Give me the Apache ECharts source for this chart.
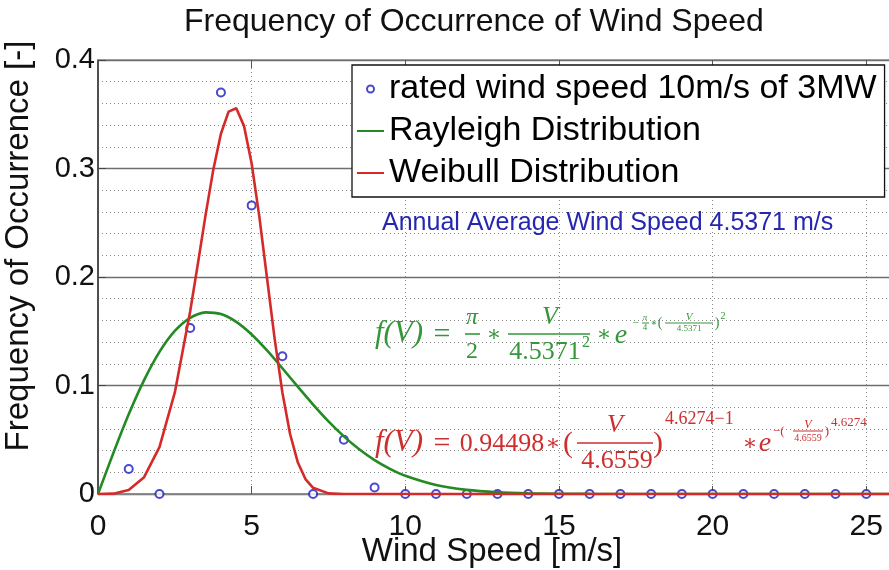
<!DOCTYPE html>
<html>
<head>
<meta charset="utf-8">
<title>Frequency of Occurrence of Wind Speed</title>
<script src="https://cdn.jsdelivr.net/npm/echarts@6/dist/echarts.min.js"></script>
<style>
  html, body { margin: 0; padding: 0; background: #fff; }
  #chart { width: 889px; height: 570px; }
</style>
</head>
<body>
<div id="chart"></div>
<script>
// Measured frequency per 1 m/s wind-speed bin
const windSpeedBins = [1, 2, 3, 4, 5, 6, 7, 8, 9, 10, 11, 12, 13, 14, 15, 16, 17, 18, 19, 20, 21, 22, 23, 24, 25, 26];
const observedFreq  = [0.023, 0, 0.153, 0.370, 0.266, 0.127, 0, 0.050, 0.006, 0, 0, 0, 0, 0, 0, 0, 0, 0, 0, 0, 0, 0, 0, 0, 0, 0];

// Rayleigh fit curve (sampled)
const rayleighSpeed = [0, 0.5, 1, 1.5, 2, 2.5, 3, 3.5, 4, 4.5, 5, 5.5, 6, 6.5, 7, 7.5, 8, 8.5, 9, 9.5, 10, 11, 12, 13, 14, 15, 16, 18, 26];
const rayleighFreq  = [0, 0.0378, 0.0735, 0.1050, 0.1310, 0.1503, 0.1624, 0.1674, 0.1658, 0.1586, 0.1470, 0.1323, 0.1159, 0.0989, 0.0824, 0.0669, 0.0531, 0.0412, 0.0312, 0.0232, 0.0168, 0.0083, 0.0038, 0.0016, 0.0006, 0.0002, 0.0001, 0, 0];

// Weibull fit curve (sampled)
const weibullSpeed = [0, 0.5, 1, 1.5, 2, 2.5, 3, 3.25, 3.5, 3.75, 4, 4.25, 4.5, 4.75, 5, 5.25, 5.5, 5.75, 6, 6.25, 6.5, 6.75, 7, 7.5, 8, 26];
const weibullFreq  = [0, 0.0003, 0.0036, 0.0155, 0.0432, 0.0936, 0.1684, 0.2122, 0.2570, 0.2986, 0.3320, 0.3524, 0.3555, 0.3393, 0.3046, 0.2556, 0.1991, 0.1428, 0.0935, 0.0553, 0.0293, 0.0138, 0.0057, 0.0006, 0, 0];

const xTickValues = [0, 5, 10, 15, 20, 25];
const seriesNames = ['rated wind speed 10m/s of 3MW', 'Rayleigh Distribution', 'Weibull Distribution'];
const averageNote = 'Annual Average Wind Speed 4.5371 m/s';

const GREEN = '#248a24';
const RED = '#d42a2a';
const BLUE = '#1a1ac4';
const F_GREEN = '#35963a';
const F_RED = '#cc2f2f';

const zip = (xs, ys) => xs.map((x, i) => [x, ys[i]]);

// --- formula typesetting helpers ---
const serif = (size, italic) => (italic ? 'italic ' : '') + size + 'px "Liberation Serif", "DejaVu Serif", serif';
function t(text, x, y, size, fill, italic, align) {
  return {
    type: 'text', x: x, y: y, z: 50, silent: true,
    style: { text: text, fill: fill, font: serif(size, italic), align: align || 'center', verticalAlign: 'middle' }
  };
}
function bar(x1, x2, y, stroke, w) {
  return {
    type: 'line', z: 50, silent: true,
    shape: { x1: x1, y1: y, x2: x2, y2: y },
    style: { stroke: stroke, lineWidth: w || 1.6 }
  };
}

const rayleighFormula = [
  t('f(V)', 399, 334, 31, F_GREEN, true),
  t('=', 442, 335, 30, F_GREEN),
  t('π', 472, 318, 24, F_GREEN, true),
  bar(465, 480, 334, F_GREEN),
  t('2', 472, 352, 24, F_GREEN),
  t('∗', 494, 335, 22, F_GREEN),
  t('V', 550, 317, 26, F_GREEN, true),
  bar(508, 590, 334, F_GREEN),
  t('4.5371', 545, 352, 26, F_GREEN),
  t('2', 586, 343, 16, F_GREEN),
  t('∗', 604, 335, 22, F_GREEN),
  t('e', 621, 336, 28, F_GREEN, true),
  t('−', 636, 323, 12, F_GREEN),
  t('π', 645, 318, 9, F_GREEN, true),
  bar(642, 649, 323, F_GREEN, 1),
  t('4', 645, 328, 9, F_GREEN),
  t('∗', 654, 323, 10, F_GREEN),
  t('(', 660, 323, 14, F_GREEN),
  t('V', 689, 317, 11, F_GREEN, true),
  bar(665, 713, 323, F_GREEN, 1),
  t('4.5371', 689, 329, 9, F_GREEN),
  t(')', 717, 323, 14, F_GREEN),
  t('2', 723, 316, 10, F_GREEN)
];

const weibullFormula = [
  t('f(V)', 399, 443, 31, F_RED, true),
  t('=', 442, 444, 30, F_RED),
  t('0.94498', 502, 444, 26, F_RED),
  t('∗', 553, 444, 22, F_RED),
  t('(', 568, 444, 30, F_RED),
  t('V', 615, 425, 26, F_RED, true),
  bar(577, 653, 443, F_RED),
  t('4.6559', 617, 461, 26, F_RED),
  t(')', 658, 444, 30, F_RED),
  t('4.6274−1', 665, 419, 18, F_RED, false, 'left'),
  t('∗', 750, 444, 22, F_RED),
  t('e', 765, 444, 28, F_RED, true),
  t('−(', 773, 432, 13, F_RED, false, 'left'),
  t('V', 808, 425, 12, F_RED, true),
  bar(793, 823, 431, F_RED, 1),
  t('4.6559', 808, 438, 10, F_RED),
  t(')', 827, 432, 13, F_RED),
  t('4.6274', 831, 423, 13, F_RED, false, 'left')
];

const dotted = { color: '#8a8a8a', width: 1, type: [1, 3] };
const sans = '"Liberation Sans", Arial, Helvetica, sans-serif';

const chart = echarts.init(document.getElementById('chart'), null, { renderer: 'canvas' });
chart.setOption({
  animation: false,
  backgroundColor: '#fff',
  textStyle: { fontFamily: sans },
  title: {
    text: 'Frequency of Occurrence of Wind Speed',
    left: 184, top: 6, padding: 0,
    textStyle: { fontSize: 32, fontWeight: 'normal', color: '#111', fontFamily: sans }
  },
  grid: {
    left: 98, top: 60, width: 799, height: 434,
    outerBoundsMode: 'none', containLabel: false,
    show: true, backgroundColor: '#fff', borderColor: '#555', borderWidth: 1
  },
  legend: {
    data: [
      { name: seriesNames[0] },
      { name: seriesNames[1], itemStyle: { opacity: 0 } },
      { name: seriesNames[2], itemStyle: { opacity: 0 } }
    ],
    orient: 'vertical',
    left: 352, top: 65,
    padding: [7, 8, 7, 4],
    itemGap: 8,
    itemWidth: 27, itemHeight: 7,
    backgroundColor: '#fff',
    borderColor: '#111', borderWidth: 1.3, borderRadius: 0,
    textStyle: { fontSize: 34, color: '#000', fontFamily: sans }
  },
  xAxis: [
    {
      type: 'value', min: 0, max: 26, interval: 1,
      name: 'Wind Speed [m/s]', nameLocation: 'middle', nameGap: 41, nameMoveOverlap: false,
      nameTextStyle: { fontSize: 33, color: '#111', fontFamily: sans, padding: [0, 11, 0, 0] },
      axisLine: { show: true, lineStyle: { color: '#888', width: 1.5 } },
      axisTick: { show: true, inside: true, length: 8, customValues: xTickValues, lineStyle: { color: '#555' } },
      axisLabel: { customValues: xTickValues, fontSize: 30, color: '#111', margin: 18, fontFamily: sans },
      splitLine: { show: true, lineStyle: dotted }
    },
    {
      type: 'value', min: 0, max: 26, interval: 1, position: 'top',
      axisLine: { show: false },
      axisTick: { show: true, inside: true, length: 8, customValues: xTickValues, lineStyle: { color: '#555' } },
      axisLabel: { show: false },
      splitLine: { show: false }
    }
  ],
  yAxis: {
    type: 'value', min: 0, max: 0.4, interval: 0.1,
    name: 'Frequency of Occurrence [-]', nameLocation: 'middle', nameGap: 63, nameMoveOverlap: false,
    nameTextStyle: { fontSize: 33, color: '#111', fontFamily: sans, padding: [0, 0, 0, 62] },
    axisLine: { show: true, lineStyle: { color: '#333', width: 1.5 } },
    axisTick: { show: true, inside: true, length: 8, lineStyle: { color: '#444' } },
    axisLabel: { fontSize: 29, color: '#111', margin: 3, fontFamily: sans },
    splitLine: { show: true, lineStyle: { color: '#6f6f6f', width: 1.3 } },
    minorTick: { show: false, splitNumber: 5 },
    minorSplitLine: { show: true, lineStyle: dotted }
  },
  graphic: [
    {
      type: 'text', x: 382, y: 223, z: 50, silent: true,
      style: { text: averageNote, fill: '#2626b0', font: '25px ' + sans, align: 'left', verticalAlign: 'middle' }
    }
  ].concat(rayleighFormula, weibullFormula),
  series: [
    {
      name: seriesNames[0], type: 'scatter', z: 1,
      data: zip(windSpeedBins, observedFreq),
      symbol: 'emptyCircle', symbolSize: 8,
      itemStyle: { color: BLUE, borderColor: BLUE, borderWidth: 2.5 }
    },
    {
      name: seriesNames[1], type: 'line', z: 3,
      data: zip(rayleighSpeed, rayleighFreq),
      symbol: 'none', showSymbol: false, smooth: 0.25,
      lineStyle: { color: GREEN, width: 2.6 },
      itemStyle: { color: GREEN }
    },
    {
      name: seriesNames[2], type: 'line', z: 4,
      data: zip(weibullSpeed, weibullFreq),
      symbol: 'none', showSymbol: false,
      lineStyle: { color: RED, width: 2.6 },
      itemStyle: { color: RED }
    }
  ]
});
</script>
</body>
</html>
